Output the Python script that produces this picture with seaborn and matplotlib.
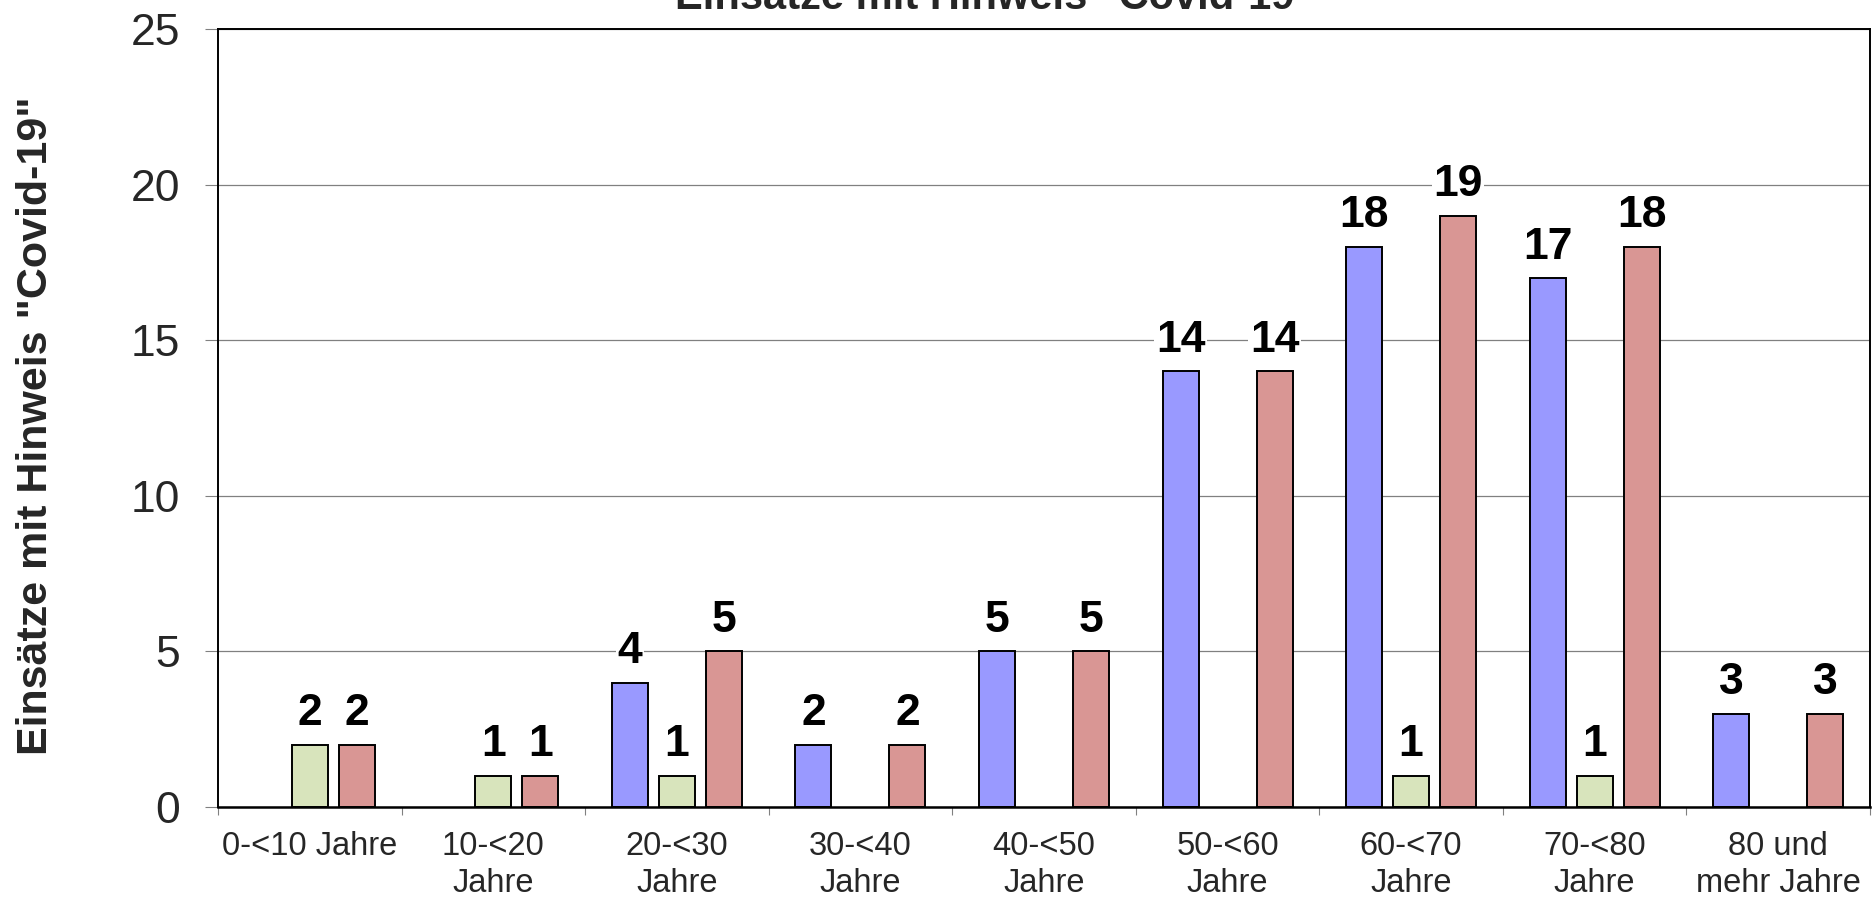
import numpy as np
import pandas as pd
import matplotlib
matplotlib.use("Agg")
import matplotlib.pyplot as plt
import seaborn as sns

categories = ["0-<10 Jahre", "10-<20\nJahre", "20-<30\nJahre", "30-<40\nJahre",
              "40-<50\nJahre", "50-<60\nJahre", "60-<70\nJahre", "70-<80\nJahre",
              "80 und\nmehr Jahre"]
series = ["Serie A", "Serie B", "Gesamt"]
blue_vals = [0, 0, 4, 2, 5, 14, 18, 17, 3]
green_vals = [2, 1, 1, 0, 0, 0, 1, 1, 0]
red_vals = [2, 1, 5, 2, 5, 14, 19, 18, 3]
yticks = [0, 5, 10, 15, 20, 25]

title = 'Einsätze mit Hinweis "Covid-19"'
ylabel = 'Einsätze mit Hinweis "Covid-19"'

colors = ["#9999FF", "#D8E4BC", "#D99694"]


def main():
    sns.set_theme(style="white")
    plt.rcParams["font.family"] = ["Liberation Sans", "DejaVu Sans"]

    rows = []
    for s, vals in zip(series, [blue_vals, green_vals, red_vals]):
        for c, v in zip(categories, vals):
            if v > 0:
                rows.append({"Altersgruppe": c, "Serie": s, "Wert": v})
    df = pd.DataFrame(rows)

    fig = plt.figure(figsize=(18.74, 9), dpi=100)
    ax = fig.add_axes([218 / 1874, 1 - 807 / 900, (1870 - 218) / 1874, (807 - 29) / 900])

    sns.barplot(data=df, x="Altersgruppe", y="Wert", hue="Serie",
                order=categories, hue_order=series, palette=colors,
                width=0.768, gap=0.234, dodge=True, edgecolor="black",
                linewidth=1.4, saturation=1, legend=False, ax=ax,
                errorbar=None)

    for cont in ax.containers:
        labels = [f"{int(b.get_height())}" for b in cont]
        ax.bar_label(cont, labels=labels, padding=7.5, fontsize=32,
                     fontweight="bold", color="black",
                     bbox=dict(facecolor="white", edgecolor="none", pad=1))

    ax.set_xlim(-0.5, len(categories) - 0.5)
    ax.set_ylim(0, 25)
    ax.set_yticks(yticks)
    ax.set_yticklabels([str(t) for t in yticks], fontsize=32)
    ax.yaxis.grid(True, color="#808080", linewidth=0.9)
    ax.set_axisbelow(True)

    ax.set_xticks(range(len(categories)))
    ax.set_xticklabels(categories, fontsize=23.5, linespacing=1.25)
    ax.set_xticks(np.arange(-0.5, len(categories)), minor=True)
    ax.tick_params(axis="x", which="major", length=0, pad=17)
    ax.tick_params(axis="x", which="minor", length=6, width=0.8, color="#808080",
                   direction="out", bottom=True)
    ax.tick_params(axis="y", length=9.5, width=0.8, color="#808080",
                   direction="out", left=True, pad=18)

    for sp in ax.spines.values():
        sp.set_visible(True)
        sp.set_color("black")
        sp.set_linewidth(1.4)
    ax.spines["bottom"].set_linewidth(1.8)

    ax.set_xlabel("")
    ax.set_ylabel("")
    fig.text(36 / 1874, 1 - 426 / 900, ylabel, rotation=90, fontsize=31,
             fontweight="bold", ha="center", va="center")
    fig.text(995 / 1874, 1 - 9 / 900, title, fontsize=30, fontweight="bold",
             ha="center", va="baseline")

    fig.savefig("out.png", dpi=100, facecolor="white")


if __name__ == "__main__":
    main()
